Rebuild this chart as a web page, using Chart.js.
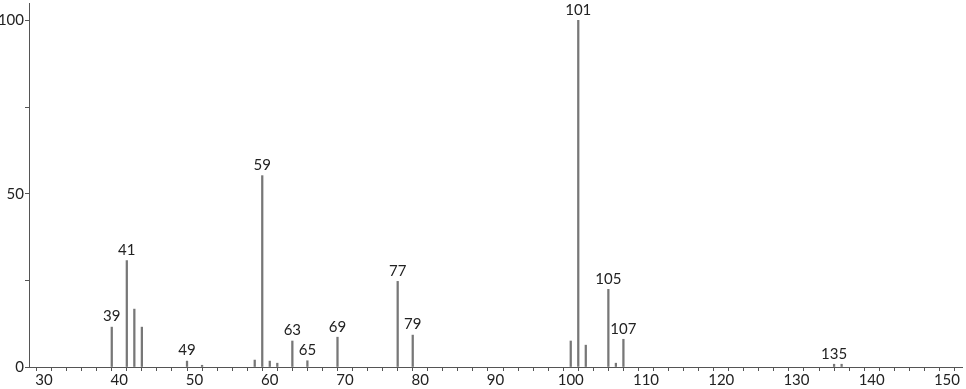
<!DOCTYPE html>
<html>
<head>
<meta charset="utf-8">
<script src="https://cdn.jsdelivr.net/npm/chart.js@4"></script>
<style>
  html, body { margin: 0; padding: 0; background: #fff; }
  #wrap { width: 966px; height: 389px; position: relative; }
</style>
</head>
<body>
<div id="wrap"><canvas id="spectrum"></canvas></div>
<script>
// Mass spectrum peaks (m/z, relative intensity)
const mzValues  = [39, 41, 42, 43, 49, 51, 58, 59, 60, 61, 63, 65, 69, 77, 79, 100, 101, 102, 105, 106, 107, 135, 136];
const intensity = [11.5, 30.7, 16.7, 11.5, 1.7, 0.5, 2.0, 55.2, 1.7, 1.1, 7.5, 1.8, 8.6, 24.7, 9.2, 7.5, 100, 6.3, 22.4, 1.1, 8.0, 0.8, 0.8];
// Peaks that carry a label
const labeledMz = [39, 41, 49, 59, 63, 65, 69, 77, 79, 101, 105, 107, 135];

const xMin = 28, xMax = 152;
const yMin = 0, yMax = 105;

const FONT = 'Lato, "DejaVu Sans", sans-serif';
Chart.defaults.font.family = FONT;
Chart.defaults.color = '#222';

// Draws m/z numbers above labeled peaks
const peakLabels = {
    id: 'peakLabels',
    afterDatasetsDraw(chart) {
        const ctx = chart.ctx;
        const meta = chart.getDatasetMeta(0);
        ctx.save();
        ctx.font = '15px ' + FONT;
        ctx.fillStyle = '#222';
        ctx.textAlign = 'center';
        ctx.textBaseline = 'bottom';
        meta.data.forEach((bar, i) => {
            if (!labeledMz.includes(mzValues[i])) return;
            ctx.fillText(String(mzValues[i]), bar.x, bar.y - 3);
        });
        ctx.restore();
    }
};

new Chart(document.getElementById('spectrum'), {
    type: 'bar',
    data: {
        datasets: [{
            data: mzValues.map((m, i) => ({ x: m, y: intensity[i] })),
            backgroundColor: '#777',
            borderWidth: 0,
            barThickness: 1.6
        }]
    },
    options: {
        responsive: true,
        maintainAspectRatio: false,
        animation: false,
        layout: { padding: { top: 3, right: 4, left: 0, bottom: 0 } },
        plugins: {
            legend: { display: false },
            tooltip: { enabled: false }
        },
        scales: {
            x: {
                type: 'linear',
                min: xMin,
                max: xMax,
                offset: false,
                border: { color: '#555', width: 1 },
                grid: { drawOnChartArea: false, tickLength: 4, color: '#555' },
                ticks: {
                    stepSize: 2,
                    autoSkip: false,
                    maxRotation: 0,
                    includeBounds: false,
                    padding: 0,
                    font: { size: 15 },
                    callback: v => (v % 10 === 0 ? String(v) : '')
                },
                afterFit: s => { s.height = 22; s.paddingLeft = 0; s.paddingRight = 0; }
            },
            y: {
                min: yMin,
                max: yMax,
                border: { color: '#555', width: 1 },
                grid: { drawOnChartArea: false, tickLength: 4, color: '#555' },
                ticks: {
                    stepSize: 25,
                    autoSkip: false,
                    includeBounds: false,
                    padding: 1,
                    font: { size: 15 },
                    callback: v => (v % 50 === 0 ? String(v) : '')
                },
                afterFit: s => { s.width = 29; s.paddingTop = 0; s.paddingBottom = 0; }
            }
        }
    },
    plugins: [peakLabels]
});
</script>
</body>
</html>
